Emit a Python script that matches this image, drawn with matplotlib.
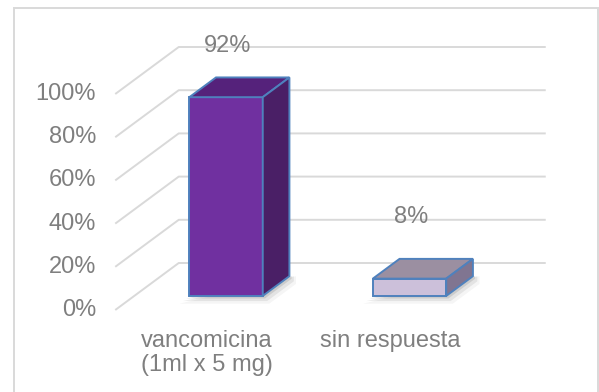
import matplotlib
matplotlib.use("Agg")
import matplotlib.pyplot as plt
from matplotlib.patches import Polygon, Rectangle

categories = ["vancomicina\n(1ml x 5 mg)", "sin respuesta"]
values = [0.92, 0.08]
tick_values = [0.0, 0.2, 0.4, 0.6, 0.8, 1.0]
tick_labels = ["0%", "20%", "40%", "60%", "80%", "100%"]
value_labels = ["92%", "8%"]

front_colors = ["#7030A0", "#CCC0DA"]
top_colors = ["#55227B", "#9B8FA1"]
side_colors = ["#4A1F66", "#807591"]
edge_color = "#4F81BD"
text_color = "#7F7F7F"
grid_color = "#D9D9D9"

# oblique projection of the floor depth (in axis units)
DX, DY = 0.346, 0.2176
BAR_W = 0.40
D_FRONT, D_BACK = 0.30, 0.72

W, H = 599, 392
fig = plt.figure(figsize=(W / 100, H / 100), dpi=100)
ax = fig.add_axes([0, 0, 1, 1])
ax.set_xlim((0 - 207) / 183.5, (W - 207) / 183.5)
ax.set_ylim((310 - H) / 216, 310 / 216)
ax.axis("off")

font = dict(family="Liberation Sans", color=text_color, fontsize=17)

# chart border
fig.patches.append(Rectangle((14 / W, -0.05), (598 - 14) / W, 1.05 - 8 / H,
                             transform=fig.transFigure, fill=False,
                             edgecolor=grid_color, linewidth=1.4))

# gridlines: side wall diagonal + back wall horizontal
x0, x1 = -0.5, len(categories) - 0.5
for v, lab in zip(tick_values, tick_labels):
    ax.plot([x0, x0 + DX, x1 + DX], [v, v + DY, v + DY],
            color=grid_color, linewidth=1.4, zorder=1, solid_capstyle="butt")
    ax.text(-0.605, v, lab, ha="right", va="center", **font)

# 3D-style bars
for i, (v, fc, tc, sc) in enumerate(zip(values, front_colors, top_colors, side_colors)):
    xl = i - BAR_W / 2 + D_FRONT * DX
    xr = xl + BAR_W
    yb = D_FRONT * DY
    yt = yb + v
    ddx = (D_BACK - D_FRONT) * DX
    ddy = (D_BACK - D_FRONT) * DY
    # soft shadow at the base
    for k, a in enumerate([0.10, 0.07, 0.04]):
        g = 0.012 * (k + 1)
        ax.add_patch(Polygon([(xl - g * 1.5, yb - g), (xr + g, yb - g),
                              (xr + ddx + g, yb + ddy - g), (xr + ddx + g, yb + ddy)],
                             closed=True, facecolor="#000000", alpha=a,
                             edgecolor="none", zorder=2))
    lw = 1.4
    ax.add_patch(Polygon([(xl, yb), (xr, yb), (xr, yt), (xl, yt)], closed=True,
                         facecolor=fc, edgecolor=edge_color, linewidth=lw, zorder=3))
    ax.add_patch(Polygon([(xl, yt), (xr, yt), (xr + ddx, yt + ddy), (xl + ddx, yt + ddy)],
                         closed=True, facecolor=tc, edgecolor=edge_color,
                         linewidth=lw, zorder=3))
    ax.add_patch(Polygon([(xr, yb), (xr + ddx, yb + ddy), (xr + ddx, yt + ddy), (xr, yt)],
                         closed=True, facecolor=sc, edgecolor=edge_color,
                         linewidth=lw, zorder=3))

# value labels above bars
label_y = [values[0] + 0.30, values[1] + 0.35]
for i, (lab, y) in enumerate(zip(value_labels, label_y)):
    ax.text(i + 0.11, y, lab, ha="center", va="center", zorder=4, **font)

# category labels along the front floor edge
for i, cat in enumerate(categories):
    ax.text(i, -0.092, cat, ha="center", va="top", linespacing=1.1, **font)

fig.savefig("out.png", dpi=100)
